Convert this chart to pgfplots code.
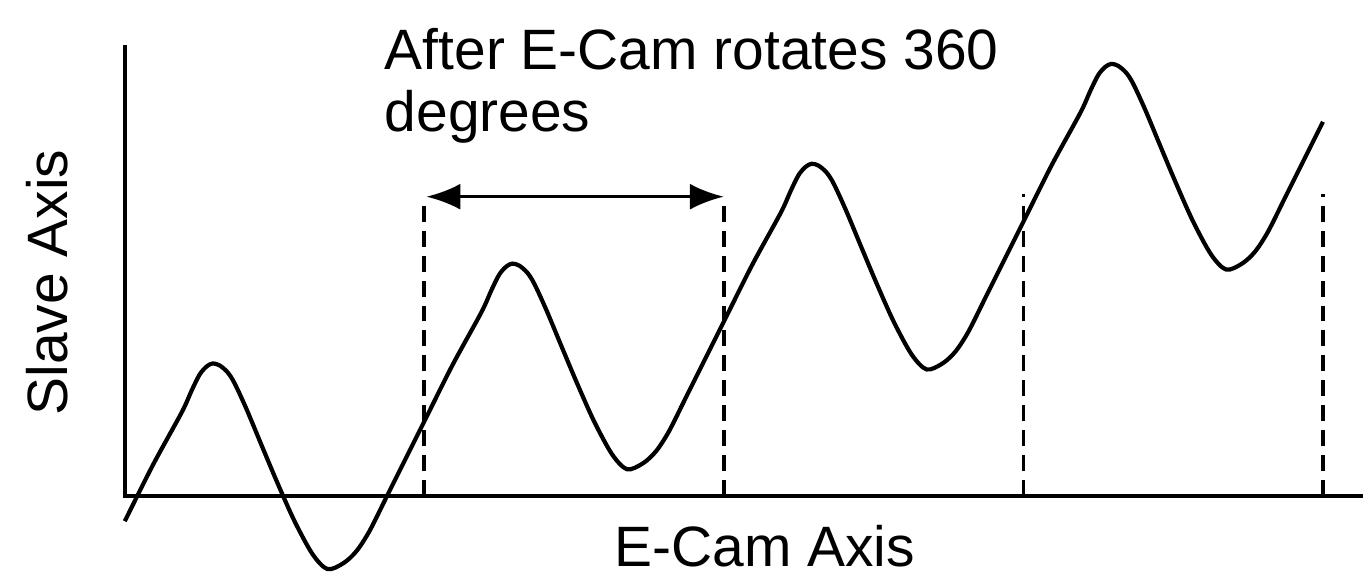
\documentclass[border=0pt]{standalone}
\usepackage{pgfplots}
\pgfplotsset{compat=1.18}
\usepackage{fontspec}
\setmainfont{Liberation Sans}
\usetikzlibrary{arrows.meta}
\begin{document}
\begin{tikzpicture}
\begin{axis}[
  x=0.5pt, y=0.5pt,
  xmin=-125, xmax=1240, ymin=-79, ymax=497,
  hide axis, clip=false,
]
\path (axis cs:-125,-79) rectangle (axis cs:1240,497);
% axes
\addplot[black, line width=2.1pt] coordinates {(0,452) (0,0) (1240,0)};
% dashed markers every 360 degrees
\addplot[black, line width=1.9pt, dash pattern=on 8pt off 4.5pt] coordinates {(300,0) (300,300)};
\addplot[black, line width=1.9pt, dash pattern=on 8pt off 4.5pt] coordinates {(600,0) (600,300)};
\addplot[black, line width=1.9pt, dash pattern=on 8pt off 4.5pt] coordinates {(900,0) (900,303)};
\addplot[black, line width=1.9pt, dash pattern=on 8pt off 4.5pt] coordinates {(1200,0) (1200,303)};
% cam curve
\addplot[black, line width=2.1pt, smooth, tension=0.5] coordinates {
(0,-25) (28,31) (57,84) (67,106) (75,122) (82,130) (88,133) (95,131) (103,124) (110,113) (122,87) (137,51) (153,13) (170,-25) (188,-58) (203,-73) (219,-67) (232,-55) (245,-35) (262,-1) (281,37)
(300,75) (328,131) (357,184) (367,206) (375,222) (382,230) (388,233) (395,231) (403,224) (410,213) (422,187) (437,151) (453,113) (470,75) (488,42) (503,27) (519,33) (532,45) (545,65) (562,99) (581,137)
(600,175) (628,231) (657,284) (667,306) (675,322) (682,330) (688,333) (695,331) (703,324) (710,313) (722,287) (737,251) (753,213) (770,175) (788,142) (803,127) (819,133) (832,145) (845,165) (862,199) (881,237)
(900,275) (928,331) (957,384) (967,406) (975,422) (982,430) (988,433) (995,431) (1003,424) (1010,413) (1022,387) (1037,351) (1053,313) (1070,275) (1088,242) (1103,227) (1119,233) (1132,245) (1145,265) (1162,299) (1181,337) (1200,375)
};
% double arrow
\draw[{Latex[length=17pt,width=13pt]}-{Latex[length=17pt,width=13pt]}, line width=1.8pt] (axis cs:302,300) -- (axis cs:600,300);
% texts
\node[anchor=base west, inner sep=0pt, font=\fontsize{28.5}{34}\selectfont] at (axis cs:260,427) {After E-Cam rotates 360};
\node[anchor=base west, inner sep=0pt, font=\fontsize{28.5}{34}\selectfont] at (axis cs:260,365) {degrees};
\node[anchor=base, inner sep=0pt, font=\fontsize{28.5}{34}\selectfont] at (axis cs:641,-70) {E-Cam Axis};
\node[anchor=base, rotate=90, inner sep=0pt, font=\fontsize{28.5}{34}\selectfont] at (axis cs:-57,214) {Slave Axis};
\end{axis}
\end{tikzpicture}
\end{document}
